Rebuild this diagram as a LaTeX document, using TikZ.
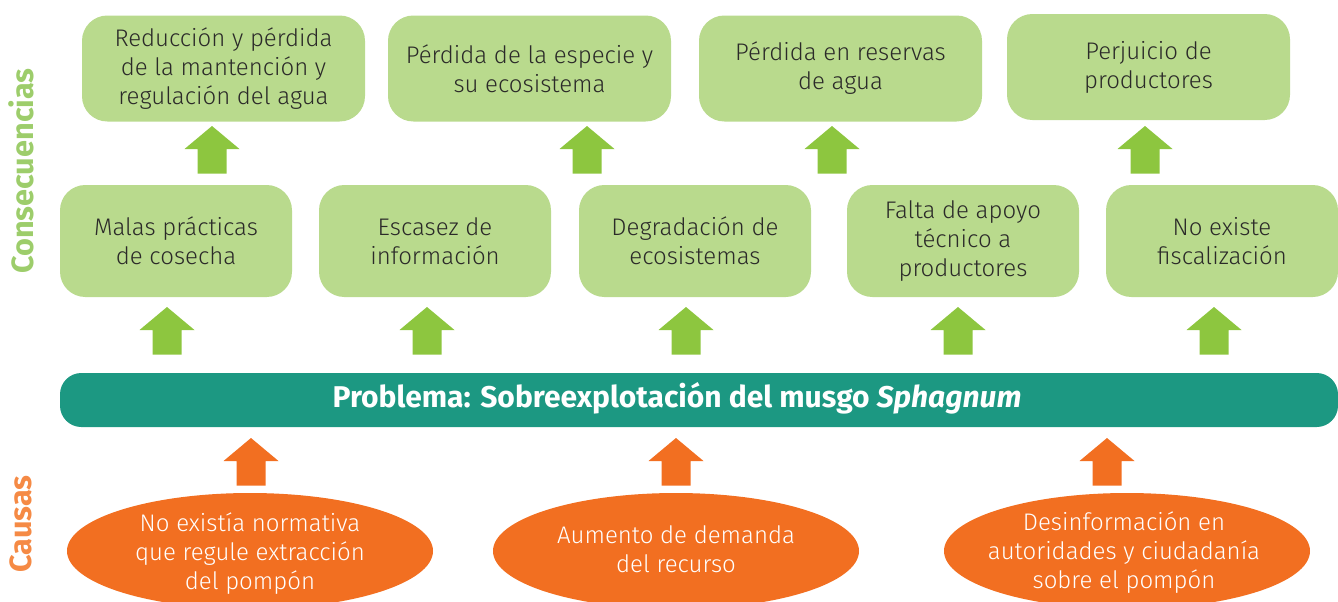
\documentclass[tikz,border=0pt]{standalone}
\usepackage{fontspec}
\setmainfont{Fira Sans}
\newfontfamily\lightfont{Fira Sans Light}
\usetikzlibrary{shapes.geometric}
\definecolor{lgreen}{HTML}{B9DA8D}
\definecolor{agreen}{HTML}{8DC63F}
\definecolor{teal2}{HTML}{1C9882}
\definecolor{orng}{HTML}{F26F21}
\definecolor{lblgreen}{HTML}{9DCD6B}
\definecolor{lblorange}{HTML}{F58A45}
\definecolor{txt}{HTML}{2B2A29}
\tikzset{
  topbox/.style={fill=lgreen, rounded corners=19pt, minimum width=212.25pt, minimum height=79.5pt, inner sep=0pt, align=center, text=txt, font=\lightfont\fontsize{18}{21.75}\selectfont},
  midbox/.style={topbox, minimum width=174pt, minimum height=84pt},
  bar/.style={fill=teal2, rounded corners=16pt, minimum width=958.5pt, minimum height=40.5pt, inner sep=0pt},
  bartext/.style={text=white, font=\fontsize{22.5}{26}\selectfont\bfseries, inner sep=0pt},
  causa/.style={ellipse, fill=orng, minimum width=274.5pt, minimum height=87pt, inner sep=0pt},
  causatext/.style={align=center, text=white, font=\lightfont\fontsize{18}{21.75}\selectfont, inner sep=0pt},
  sidelabel/.style={rotate=90, font=\fontsize{23}{26}\selectfont\bfseries, inner sep=0pt},
  uparrow/.pic={\fill (-27.5,0) -- (0,-23) -- (27.5,0) -- (14.5,0) -- (14.5,24.5) -- (-14.5,24.5) -- (-14.5,0) -- cycle;}
}
\begin{document}
\begin{tikzpicture}[x=0.75pt,y=-0.75pt]
\useasboundingbox (0,0) rectangle (1338,601);
% consequences (top)
\node[topbox] (t1) at (223.5,68.5) {Reducción y pérdida\\de la mantención y\\regulación del agua};
\node[topbox] (t2) at (529.5,68.5) {Pérdida de la especie y\\su ecosistema};
\node[topbox] (t3) at (840.5,68.5) {Pérdida en reservas\\de agua};
\node[topbox] (t4) at (1148.5,67) {Perjuicio de\\productores};
% middle
\node[midbox] (m1) at (176,241) {Malas prácticas\\de cosecha};
\node[midbox] (m2) at (435,241) {Escasez de\\información};
\node[midbox] (m3) at (695,241) {Degradación de\\ecosistemas};
\node[midbox] (m4) at (963,241) {Falta de apoyo\\técnico a\\productores};
\node[midbox] (m5) at (1222,241) {No existe\\fiscalización};
% problem bar
\node[bar] (p) at (699,400) {};
\node[bartext] (ptext) at (677,398) {Problema: Sobreexplotación del musgo \textit{Sphagnum}};
% arrows
\pic[agreen] at (212,149) {uparrow};
\pic[agreen] at (587,149) {uparrow};
\pic[agreen] at (832,149) {uparrow};
\pic[agreen] at (1145,149) {uparrow};
\pic[agreen] at (167,330) {uparrow};
\pic[agreen] at (427,330) {uparrow};
\pic[agreen] at (686,330) {uparrow};
\pic[agreen] at (958,330) {uparrow};
\pic[agreen] at (1214,330) {uparrow};
\pic[orng] at (251,461) {uparrow};
\pic[orng] at (676,461) {uparrow};
\pic[orng] at (1107,461) {uparrow};
% causes
\begin{scope}
\clip (0,0) rectangle (1338,601);
\node[causa] (c1) at (250,551) {};
\node[causa] (c2) at (676,551) {};
\node[causa] (c3) at (1127,551) {};
\end{scope}
\node[causatext] (c1t) at (250,554) {No existía normativa\\que regule extracción\\del pompón};
\node[causatext] (c2t) at (676,549) {Aumento de demanda\\del recurso};
\node[causatext] (c3t) at (1124,553) {Desinformación en\\autoridades y ciudadanía\\sobre el pompón};
% side labels
\node[sidelabel, text=lblgreen] (lcons) at (21,171) {Consecuencias};
\node[sidelabel, text=lblorange] (lcaus) at (21,524) {Causas};
\end{tikzpicture}
\end{document}
